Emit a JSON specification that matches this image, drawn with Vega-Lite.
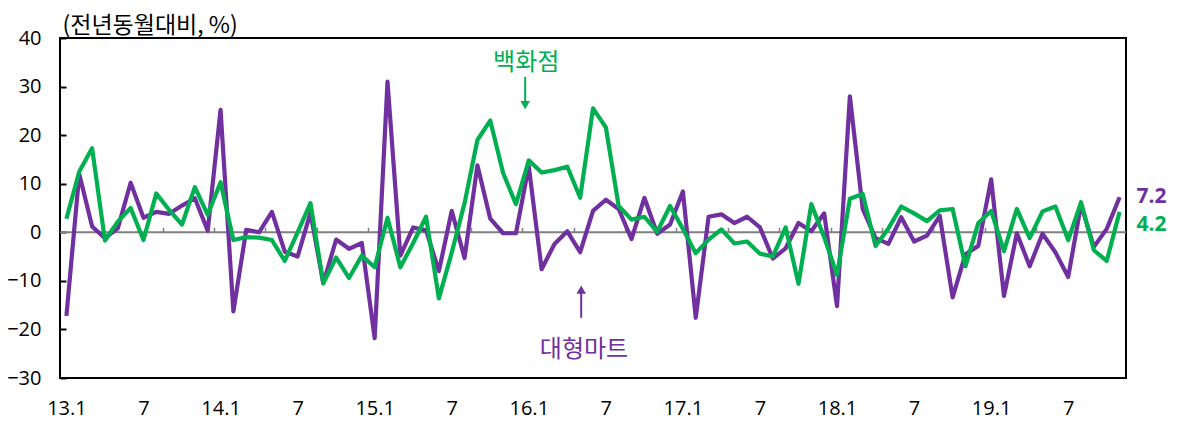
{
  "$schema": "https://vega.github.io/schema/vega-lite/v6.json",
  "width": 1066,
  "height": 340,
  "autosize": {"type": "none"},
  "padding": {"left": 60, "top": 38, "right": 53, "bottom": 43},
  "background": "white",
  "config": {"view": {"stroke": "#000000", "strokeWidth": 2}, "font": "Open Sans"},
  "datasets": {
    "sales": [
      {"t":0,"ym":"2013-01","mart":-17.2,"dept":2.8},
      {"t":1,"ym":"2013-02","mart":12.0,"dept":12.5},
      {"t":2,"ym":"2013-03","mart":1.2,"dept":17.3},
      {"t":3,"ym":"2013-04","mart":-1.2,"dept":-1.7},
      {"t":4,"ym":"2013-05","mart":0.8,"dept":2.2},
      {"t":5,"ym":"2013-06","mart":10.2,"dept":5.0},
      {"t":6,"ym":"2013-07","mart":3.0,"dept":-1.6},
      {"t":7,"ym":"2013-08","mart":4.2,"dept":8.0},
      {"t":8,"ym":"2013-09","mart":3.8,"dept":4.6},
      {"t":9,"ym":"2013-10","mart":5.5,"dept":1.6},
      {"t":10,"ym":"2013-11","mart":7.0,"dept":9.3},
      {"t":11,"ym":"2013-12","mart":0.3,"dept":3.6},
      {"t":12,"ym":"2014-01","mart":25.2,"dept":10.3},
      {"t":13,"ym":"2014-02","mart":-16.3,"dept":-1.6},
      {"t":14,"ym":"2014-03","mart":0.5,"dept":-1.0},
      {"t":15,"ym":"2014-04","mart":0.0,"dept":-1.1},
      {"t":16,"ym":"2014-05","mart":4.2,"dept":-1.6},
      {"t":17,"ym":"2014-06","mart":-4.0,"dept":-5.9},
      {"t":18,"ym":"2014-07","mart":-5.0,"dept":0.0},
      {"t":19,"ym":"2014-08","mart":4.0,"dept":6.0},
      {"t":20,"ym":"2014-09","mart":-10.5,"dept":-10.5},
      {"t":21,"ym":"2014-10","mart":-1.5,"dept":-5.2},
      {"t":22,"ym":"2014-11","mart":-3.4,"dept":-9.4},
      {"t":23,"ym":"2014-12","mart":-2.2,"dept":-4.8},
      {"t":24,"ym":"2015-01","mart":-21.8,"dept":-7.2},
      {"t":25,"ym":"2015-02","mart":31.0,"dept":3.0},
      {"t":26,"ym":"2015-03","mart":-4.8,"dept":-7.2},
      {"t":27,"ym":"2015-04","mart":1.0,"dept":-2.2},
      {"t":28,"ym":"2015-05","mart":0.4,"dept":3.2},
      {"t":29,"ym":"2015-06","mart":-8.0,"dept":-13.6},
      {"t":30,"ym":"2015-07","mart":4.4,"dept":-4.2},
      {"t":31,"ym":"2015-08","mart":-5.3,"dept":6.0},
      {"t":32,"ym":"2015-09","mart":13.8,"dept":19.0},
      {"t":33,"ym":"2015-10","mart":2.8,"dept":23.0},
      {"t":34,"ym":"2015-11","mart":-0.2,"dept":12.2},
      {"t":35,"ym":"2015-12","mart":-0.2,"dept":5.8},
      {"t":36,"ym":"2016-01","mart":13.6,"dept":14.8},
      {"t":37,"ym":"2016-02","mart":-7.6,"dept":12.3},
      {"t":38,"ym":"2016-03","mart":-2.4,"dept":12.8},
      {"t":39,"ym":"2016-04","mart":0.2,"dept":13.5},
      {"t":40,"ym":"2016-05","mart":-4.1,"dept":7.1},
      {"t":41,"ym":"2016-06","mart":4.4,"dept":25.5},
      {"t":42,"ym":"2016-07","mart":6.7,"dept":21.6},
      {"t":43,"ym":"2016-08","mart":4.8,"dept":5.4},
      {"t":44,"ym":"2016-09","mart":-1.4,"dept":2.6},
      {"t":45,"ym":"2016-10","mart":7.1,"dept":3.2},
      {"t":46,"ym":"2016-11","mart":-0.3,"dept":0.1},
      {"t":47,"ym":"2016-12","mart":1.6,"dept":5.4},
      {"t":48,"ym":"2017-01","mart":8.4,"dept":0.7},
      {"t":49,"ym":"2017-02","mart":-17.6,"dept":-4.3},
      {"t":50,"ym":"2017-03","mart":3.2,"dept":-1.5},
      {"t":51,"ym":"2017-04","mart":3.7,"dept":0.6},
      {"t":52,"ym":"2017-05","mart":1.9,"dept":-2.3},
      {"t":53,"ym":"2017-06","mart":3.2,"dept":-1.9},
      {"t":54,"ym":"2017-07","mart":1.0,"dept":-4.4},
      {"t":55,"ym":"2017-08","mart":-5.4,"dept":-5.0},
      {"t":56,"ym":"2017-09","mart":-3.3,"dept":1.0},
      {"t":57,"ym":"2017-10","mart":1.9,"dept":-10.6},
      {"t":58,"ym":"2017-11","mart":0.2,"dept":5.8},
      {"t":59,"ym":"2017-12","mart":3.9,"dept":-1.0},
      {"t":60,"ym":"2018-01","mart":-15.2,"dept":-8.8},
      {"t":61,"ym":"2018-02","mart":28.0,"dept":6.9},
      {"t":62,"ym":"2018-03","mart":4.8,"dept":7.9},
      {"t":63,"ym":"2018-04","mart":-1.2,"dept":-2.8},
      {"t":64,"ym":"2018-05","mart":-2.4,"dept":0.8},
      {"t":65,"ym":"2018-06","mart":3.1,"dept":5.3},
      {"t":66,"ym":"2018-07","mart":-1.9,"dept":3.9},
      {"t":67,"ym":"2018-08","mart":-0.7,"dept":2.3},
      {"t":68,"ym":"2018-09","mart":3.4,"dept":4.5},
      {"t":69,"ym":"2018-10","mart":-13.4,"dept":4.8},
      {"t":70,"ym":"2018-11","mart":-4.5,"dept":-7.0},
      {"t":71,"ym":"2018-12","mart":-2.8,"dept":1.9},
      {"t":72,"ym":"2019-01","mart":10.9,"dept":4.4},
      {"t":73,"ym":"2019-02","mart":-13.1,"dept":-3.9},
      {"t":74,"ym":"2019-03","mart":-0.2,"dept":4.8},
      {"t":75,"ym":"2019-04","mart":-7.0,"dept":-1.2},
      {"t":76,"ym":"2019-05","mart":-0.3,"dept":4.3},
      {"t":77,"ym":"2019-06","mart":-4.1,"dept":5.3},
      {"t":78,"ym":"2019-07","mart":-9.2,"dept":-1.6},
      {"t":79,"ym":"2019-08","mart":5.7,"dept":6.2},
      {"t":80,"ym":"2019-09","mart":-3.0,"dept":-3.7},
      {"t":81,"ym":"2019-10","mart":0.7,"dept":-5.9},
      {"t":82,"ym":"2019-11","mart":7.2,"dept":4.2}
    ]
  },
  "data": {"name": "sales"},
  "layer": [
    {
      "data": {"values": [{"a": 0}]},
      "mark": {"type": "rule", "color": "#808080", "strokeWidth": 2},
      "encoding": {
        "x": {"datum": -0.5, "type": "quantitative",
              "scale": {"domain": [-0.5, 82.5], "nice": false, "zero": false},
              "axis": {"orient": "top", "offset": -194.3, "values": [3.5,7.5,11.5,15.5,19.5,23.5,27.5,31.5,35.5,39.5,43.5,47.5,51.5,55.5,59.5,63.5,67.5,71.5,75.5,79.5],
                       "labels": false, "domain": false, "grid": false, "ticks": true, "tickColor": "#808080", "tickSize": 5, "tickWidth": 1.5, "title": null}},
        "x2": {"datum": 82.5},
        "y": {"datum": 0, "type": "quantitative",
              "scale": {"domain": [-30, 40], "nice": false, "zero": false}}
      }
    },
    {
      "mark": {"type": "line", "color": "#7030A0", "strokeWidth": 4.2, "strokeJoin": "round"},
      "encoding": {
        "x": {"field": "t", "type": "quantitative",
              "axis": {"orient": "bottom", "values": [0,6,12,18,24,30,36,42,48,54,60,66,72,78],
                       "labelExpr": "datum.value % 12 == 0 ? (13 + datum.value / 12) + '.1' : '7'",
                       "ticks": false, "domain": false, "grid": false, "labelPadding": 20, "labelFontSize": 20,
                       "labelColor": "#000000", "labelFlush": false, "labelOverlap": false, "labelBound": false, "title": null}},
        "y": {"field": "mart", "type": "quantitative",
              "axis": {"values": [-30,-20,-10,0,10,20,30,40], "domain": false, "grid": false,
                       "tickSize": -6, "tickWidth": 2, "tickColor": "#000000",
                       "labelFontSize": 20, "labelColor": "#000000", "labelPadding": 25, "labelFont": "Open Sans",
                       "labelOverlap": false, "labelFlush": false, "labelBound": false,
                       "title": "(전년동월대비, %)", "titleAngle": 0, "titleAlign": "left", "titleBaseline": "alphabetic",
                       "titleX": 2, "titleY": -6, "titleFontSize": 23, "titleFontWeight": "normal", "titleColor": "#000000", "titleFont": "Noto Sans CJK KR"}}
      }
    },
    {
      "mark": {"type": "line", "color": "#00B050", "strokeWidth": 4.2, "strokeJoin": "round"},
      "encoding": {
        "x": {"field": "t", "type": "quantitative", "axis": null},
        "y": {"field": "dept", "type": "quantitative"}
      }
    },
    {
      "transform": [{"filter": "datum.t == 82"}],
      "mark": {"type": "text", "color": "#7030A0", "fontSize": 21, "fontWeight": "bold", "align": "left", "baseline": "middle", "dx": 17, "dy": 0, "font": "Open Sans"},
      "encoding": {
        "x": {"field": "t", "type": "quantitative", "axis": null},
        "y": {"field": "mart", "type": "quantitative"},
        "text": {"field": "mart", "type": "quantitative", "format": ".1f"}
      }
    },
    {
      "transform": [{"filter": "datum.t == 82"}],
      "mark": {"type": "text", "color": "#00B050", "fontSize": 21, "fontWeight": "bold", "align": "left", "baseline": "middle", "dx": 17, "dy": 13, "font": "Open Sans"},
      "encoding": {
        "x": {"field": "t", "type": "quantitative", "axis": null},
        "y": {"field": "dept", "type": "quantitative"},
        "text": {"field": "dept", "type": "quantitative", "format": ".1f"}
      }
    },
    {
      "data": {"values": [{"t": 35.8, "v": 34.9, "label": "백화점"}]},
      "mark": {"type": "text", "color": "#00B050", "fontSize": 24, "font": "Noto Sans CJK KR", "align": "center", "baseline": "middle"},
      "encoding": {
        "x": {"field": "t", "type": "quantitative", "axis": null},
        "y": {"field": "v", "type": "quantitative"},
        "text": {"field": "label"}
      }
    },
    {
      "data": {"values": [{"t": 40.3, "v": -24.3, "label": "대형마트"}]},
      "mark": {"type": "text", "color": "#7030A0", "fontSize": 24, "font": "Noto Sans CJK KR", "align": "center", "baseline": "middle"},
      "encoding": {
        "x": {"field": "t", "type": "quantitative", "axis": null},
        "y": {"field": "v", "type": "quantitative"},
        "text": {"field": "label"}
      }
    },
    {
      "data": {"values": [{"t": 35.72, "from": 32.0, "to": 26.6}]},
      "mark": {"type": "rule", "color": "#00B050", "strokeWidth": 2},
      "encoding": {
        "x": {"field": "t", "type": "quantitative", "axis": null},
        "y": {"field": "from", "type": "quantitative"},
        "y2": {"field": "to"}
      }
    },
    {
      "data": {"values": [{"t": 35.72, "head": 26.2}]},
      "mark": {"type": "point", "shape": "triangle-down", "filled": true, "color": "#00B050", "size": 90, "opacity": 1},
      "encoding": {
        "x": {"field": "t", "type": "quantitative", "axis": null},
        "y": {"field": "head", "type": "quantitative"}
      }
    },
    {
      "data": {"values": [{"t": 40.08, "from": -17.6, "to": -12.1}]},
      "mark": {"type": "rule", "color": "#7030A0", "strokeWidth": 2},
      "encoding": {
        "x": {"field": "t", "type": "quantitative", "axis": null},
        "y": {"field": "from", "type": "quantitative"},
        "y2": {"field": "to"}
      }
    },
    {
      "data": {"values": [{"t": 40.08, "head": -11.8}]},
      "mark": {"type": "point", "shape": "triangle-up", "filled": true, "color": "#7030A0", "size": 90, "opacity": 1},
      "encoding": {
        "x": {"field": "t", "type": "quantitative", "axis": null},
        "y": {"field": "head", "type": "quantitative"}
      }
    }
  ],
  "resolve": {"axis": {"x": "independent"}}
}
